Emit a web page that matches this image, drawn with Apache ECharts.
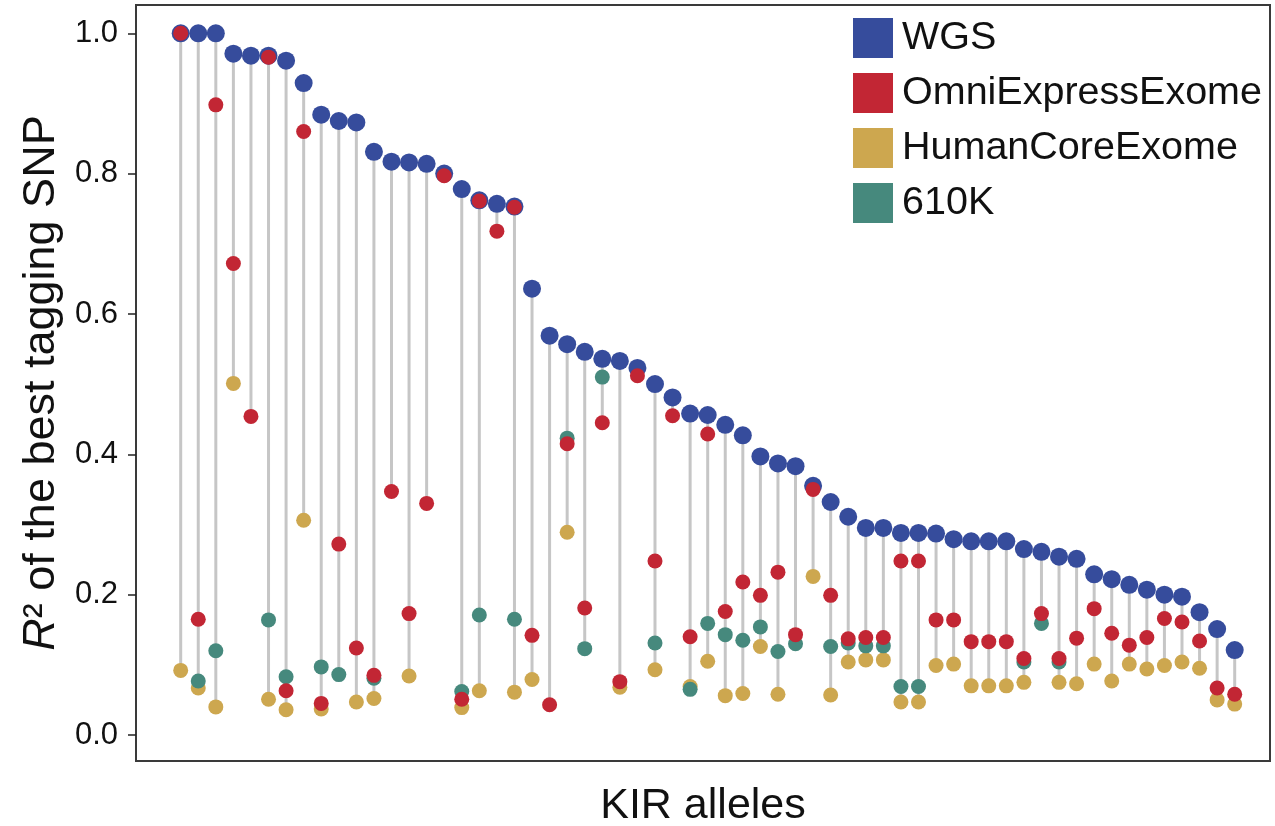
<!DOCTYPE html>
<html>
<head>
<meta charset="utf-8">
<script src="https://cdn.jsdelivr.net/npm/echarts@6/dist/echarts.min.js"></script>
<style>
  html, body { margin: 0; padding: 0; background: #fff; }
  #chart { width: 1275px; height: 826px; }
</style>
</head>
<body>
<div id="chart"></div>
<script>
// one entry per KIR allele, sorted by WGS value
const wgs = [1.0, 1.0, 1.0, 0.971, 0.968, 0.968, 0.961, 0.929, 0.884, 0.875,
  0.873, 0.831, 0.817, 0.816, 0.814, 0.800, 0.778, 0.762, 0.757, 0.753,
  0.636, 0.569, 0.557, 0.546, 0.536, 0.533, 0.523, 0.500, 0.481, 0.458,
  0.456, 0.442, 0.427, 0.397, 0.387, 0.383, 0.355, 0.332, 0.311, 0.295,
  0.295, 0.288, 0.288, 0.287, 0.279, 0.276, 0.276, 0.276, 0.265, 0.261,
  0.254, 0.251, 0.229, 0.222, 0.214, 0.207, 0.200, 0.197, 0.175, 0.151,
  0.121];
const omni = [1.0, 0.165, 0.898, 0.672, 0.454, 0.966, 0.063, 0.860, 0.045, 0.272,
  0.124, 0.085, 0.347, 0.173, 0.330, 0.797, 0.051, 0.761, 0.718, 0.752,
  0.142, 0.043, 0.415, 0.181, 0.445, 0.076, 0.512, 0.248, 0.455, 0.140,
  0.429, 0.176, 0.218, 0.199, 0.232, 0.143, 0.350, 0.199, 0.137, 0.139,
  0.139, 0.248, 0.248, 0.164, 0.164, 0.133, 0.133, 0.133, 0.109, 0.173,
  0.109, 0.138, 0.180, 0.145, 0.128, 0.139, 0.166, 0.161, 0.134, 0.067,
  0.058];
const coreExome = [0.092, 0.067, 0.040, 0.501, null, 0.051, 0.036, 0.306, 0.037, null,
  0.047, 0.052, null, 0.084, null, null, 0.039, 0.063, null, 0.061,
  0.079, null, 0.289, null, null, 0.068, null, 0.093, null, 0.069,
  0.105, 0.056, 0.059, 0.126, 0.058, null, 0.226, 0.057, 0.104, 0.107,
  0.107, 0.047, 0.047, 0.099, 0.101, 0.070, 0.070, 0.070, 0.075, null,
  0.075, 0.073, 0.101, 0.077, 0.101, 0.094, 0.099, 0.104, 0.095, 0.050,
  0.044];
const k610 = [null, 0.077, 0.120, null, null, 0.164, 0.083, null, 0.097, 0.086,
  null, 0.081, null, null, null, null, 0.062, 0.171, null, 0.165,
  null, null, 0.423, 0.123, 0.510, null, null, 0.131, null, 0.065,
  0.159, 0.143, 0.135, 0.154, 0.119, 0.130, null, 0.126, 0.131, 0.127,
  0.127, 0.069, 0.069, null, null, null, null, null, 0.104, 0.159,
  0.104, null, null, null, null, null, null, null, null, null,
  null];
const yTicks = [0, 0.2, 0.4, 0.6, 0.8, 1.0];

const font = 'Liberation Sans, Arial, Helvetica, sans-serif';
const toPts = arr => arr.map((v, i) => (v == null ? null : [i, v]));

// vertical stem from lowest to highest value of each allele
const stems = wgs.map((w, i) => {
  const vals = [w, omni[i], coreExome[i], k610[i]].filter(v => v != null);
  return [i, Math.min(...vals), Math.max(...vals)];
});

const chart = echarts.init(document.getElementById('chart'));
chart.setOption({
  animation: false,
  textStyle: { fontFamily: font },
  grid: {
    left: 136, top: 5, width: 1134, height: 756, outerBoundsMode: 'none',
    show: true, borderColor: '#3a3a3a', borderWidth: 2, backgroundColor: '#fff'
  },
  legend: {
    data: ['WGS', 'OmniExpressExome', 'HumanCoreExome', '610K'],
    orient: 'vertical', left: 848, top: 13,
    icon: 'rect', itemWidth: 40, itemHeight: 40, itemGap: 15,
    textStyle: { fontSize: 39.5, color: '#111', fontFamily: font, padding: [0, 0, 0, 4] }
  },
  xAxis: {
    type: 'value', min: -2.544, max: 62.01,
    axisLine: { show: false }, axisTick: { show: false },
    axisLabel: { show: false }, splitLine: { show: false },
    name: 'KIR alleles', nameLocation: 'middle', nameGap: 24,
    nameTextStyle: { fontSize: 43, color: '#111', fontFamily: font }
  },
  yAxis: {
    type: 'value', min: -0.0371, max: 1.0403,
    axisLine: { show: true, onZero: false, lineStyle: { color: '#3a3a3a', width: 2 } },
    axisTick: { show: true, length: 8, customValues: yTicks, lineStyle: { color: '#222', width: 1.5 } },
    axisLabel: {
      customValues: yTicks, margin: 18, fontSize: 31, color: '#111', fontFamily: font,
      formatter: v => v.toFixed(1)
    },
    splitLine: { show: false },
    name: '{i|R}² of the best tagging SNP', nameLocation: 'middle', nameGap: 68,
    nameTextStyle: {
      fontSize: 45, color: '#111', fontFamily: font,
      rich: { i: { fontStyle: 'italic', fontSize: 45, color: '#111', fontFamily: font } }
    }
  },
  series: [
    {
      type: 'custom', name: 'stems', data: stems, z: 1, silent: true,
      renderItem: (params, api) => {
        const a = api.coord([api.value(0), api.value(1)]);
        const b = api.coord([api.value(0), api.value(2)]);
        return {
          type: 'line',
          shape: { x1: a[0], y1: a[1], x2: b[0], y2: b[1] },
          style: { stroke: '#c6c6c6', lineWidth: 3 }
        };
      }
    },
    { name: 'HumanCoreExome', type: 'scatter', data: toPts(coreExome), symbolSize: 15, z: 2,
      itemStyle: { color: '#CDA74F', opacity: 1 } },
    { name: '610K', type: 'scatter', data: toPts(k610), symbolSize: 15, z: 3,
      itemStyle: { color: '#46897D', opacity: 1 } },
    { name: 'WGS', type: 'scatter', data: toPts(wgs), symbolSize: 18, z: 4, clip: false,
      itemStyle: { color: '#364C9C', opacity: 1 } },
    { name: 'OmniExpressExome', type: 'scatter', data: toPts(omni), symbolSize: 15, z: 5, clip: false,
      itemStyle: { color: '#C22634', opacity: 1 } }
  ]
});
</script>
</body>
</html>
